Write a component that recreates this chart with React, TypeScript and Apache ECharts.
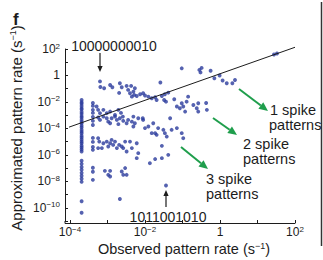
import { useEffect, useRef } from 'react';
import * as echarts from 'echarts';

const FONT = '"Liberation Sans", Arial, Helvetica, sans-serif';
const INK = '#1c1c1c';
const DOT = '#2b3b9c';
const GREEN = '#1f9e4c';

// log10 of the observed rate for the two dense columns (1 and 2 occurrences)
const col1ObsExp = -3.69;
const col1ApproxExp = [-1.85, -2.02, -2.14, -2.31, -2.47, -2.58, -2.76, -2.9, -3.07, -3.19, -3.36, -3.52, -3.63, -3.81, -3.94, -4.12, -4.26, -4.39, -4.57, -4.7, -4.86, -5.01, -5.13, -5.31, -5.44, -5.6, -5.75, -6.45, -6.68, -6.91, -7.13, -7.36, -7.58, -7.81, -8.04, -9.51, -10.38];
const col2ObsExp = -3.39;
const col2ApproxExp = [-2.08, -2.3, -2.6, -2.83, -3.13, -3.43, -3.74, -4.72, -5.02, -5.4, -5.62, -6.98, -7.28, -7.89];

// upper band (mostly 1-spike patterns), log10 values
const upperObsExp = [-3.2, -3.19, -3.09, -2.93, -2.87, -2.67, -2.62, -2.69, -2.49, -2.45, -2.4, -2.31, -2.29, -2.22, -2.13, -2.05, -2.0, -1.91, -1.82, -1.73, -1.69, -1.55, -1.47, -1.38, -1.59, -1.44, -1.22, -0.85, -1.15, -1.02, -0.98, -0.71, -0.58, -0.58, -0.93, -1.07, -0.37, -1.02, -0.55, -0.52, -0.49, -0.25, -0.15, -0.01, 0.07, 0.18, 0.33, 0.4, 1.44, 1.52, -2.35, -2.37, -2.27, -0.89, -0.62, -0.35, -1.49];
const upperApproxExp = [-0.45, -0.87, -0.97, -0.72, -0.89, -0.59, -0.89, -1.32, -0.79, -1.09, -1.34, -1.22, -1.47, -1.55, -1.42, -1.34, -1.51, -1.6, -1.72, -1.65, -1.85, -1.55, -1.42, -1.3, -0.53, -1.98, -1.8, -1.6, -2.35, -2.1, -2.35, -2.23, -2.1, -2.73, -2.73, -2.48, -2.08, 0.54, 0.42, 0.23, 0.57, 0.36, -0.21, 0.0, -0.38, -0.59, -0.59, -0.34, 1.58, 1.66, -1.6, -0.79, -0.97, -1.98, -2.48, -2.6, -1.85];

// middle band (mostly 2-spike patterns)
const middleObsExp = [-1.33, -2.06, -3.29, -3.25, -3.2, -3.11, -3.02, -2.93, -2.8, -2.71, -2.64, -3.25, -3.2, -3.11, -3.02, -2.98, -2.89, -2.8, -2.75, -2.67, -2.58, -2.49, -2.45, -2.35, -2.27, -2.18, -2.93, -2.71, -2.59, -2.31, -2.05, -2.31, -2.0, -1.91, -1.78, -1.65, -1.73, -1.51, -1.47, -1.42, -1.29, -1.15, -1.02, -1.82, -1.69, -0.98];
const middleApproxExp = [-3.23, -3.23, -2.35, -2.6, -2.85, -2.6, -2.85, -2.73, -2.98, -2.6, -2.83, -3.18, -3.36, -3.11, -3.23, -3.49, -3.23, -3.11, -3.36, -3.23, -3.43, -3.61, -3.36, -3.49, -3.61, -3.23, -3.61, -3.68, -3.11, -3.11, -3.36, -3.86, -3.98, -3.86, -3.61, -3.98, -4.36, -4.11, -4.36, -4.62, -4.11, -3.98, -4.36, -4.36, -4.49, -4.74];

// lower band (mostly 3-spike patterns)
const lowerObsExp = [-1.55, -1.38, -1.55, -1.73, -1.87, -3.25, -3.22, -3.25, -3.15, -3.11, -3.02, -2.98, -2.93, -2.89, -2.85, -2.8, -2.75, -2.69, -2.62, -2.58, -2.53, -2.49, -2.4, -2.35, -2.22, -2.18, -2.22, -3.07, -2.93, -2.98, -2.93, -2.62, -2.58, -2.49, -2.53, -2.67, -1.44];
const lowerApproxExp = [-5.32, -6.0, -6.25, -6.32, -6.63, -4.74, -5.0, -5.49, -5.49, -5.12, -5.0, -5.37, -5.12, -4.87, -5.25, -5.0, -5.49, -5.25, -5.37, -5.49, -5.0, -5.75, -5.0, -5.49, -5.12, -5.87, -6.25, -7.21, -7.21, -7.51, -7.64, -7.26, -7.51, -7.51, -7.0, -9.34, -8.32];

// black reference line (log10 endpoints)
const lineObsExp = [-4.1, 2.0];
const lineApproxExp = [-3.98, 2.13];

const xTickLabels: Record<number, string> = { [-4]: '{b|10}{s|−4}', [-2]: '{b|10}{s|−2}', 0: '{b|1}', 2: '{b|10}{s|2}' };
const yTickLabels: Record<number, string> = { 2: '{b|10}{s|2}', 0: '{b|1}', [-2]: '{b|10}{s|−2}', [-4]: '{b|10}{s|−4}', [-6]: '{b|10}{s|−6}', [-8]: '{b|10}{s|−8}', [-10]: '{b|10}{s|−10}' };

const pts = (xs: number[], ys: number[]) => xs.map((x, i) => [Math.pow(10, x), Math.pow(10, ys[i])]);
const colPts = (x: number, ys: number[]) => ys.map((y) => [Math.pow(10, x), Math.pow(10, y)]);

function arrow(x1: number, y1: number, x2: number, y2: number, color: string, w: number, hl: number, hw: number) {
  const dx = x2 - x1, dy = y2 - y1;
  const L = Math.sqrt(dx * dx + dy * dy);
  const ux = dx / L, uy = dy / L;
  const bx = x2 - ux * hl, by = y2 - uy * hl;
  const px = -uy, py = ux;
  return [
    { type: 'line', shape: { x1, y1, x2: bx, y2: by }, style: { stroke: color, lineWidth: w }, silent: true },
    { type: 'polygon', shape: { points: [[x2, y2], [bx + px * hw, by + py * hw], [bx - px * hw, by - py * hw]] }, style: { fill: color }, silent: true },
  ];
}

const labelRich = {
  b: { fontSize: 12, lineHeight: 14, fontFamily: FONT, color: INK },
  s: { fontSize: 8, lineHeight: 8, verticalAlign: 'top', fontFamily: FONT, color: INK },
};

const fmt = (table: Record<number, string>) => (v: number) => {
  const e = Math.log10(v);
  const r = Math.round(e);
  if (Math.abs(e - r) > 0.01) return '';
  return table[r] ?? '';
};

const txt = (text: string, x: number, y: number, size: number, align = 'left', extra: any = {}) => ({
  type: 'text', x, y, silent: true,
  style: { text, fontSize: size, lineHeight: 13, fontFamily: FONT, fill: INK, align, verticalAlign: 'middle', ...extra },
});

export default function App() {
  const ref = useRef<HTMLDivElement>(null);
  useEffect(() => {
    document.body.style.margin = '0';
    const chart = echarts.init(ref.current!, null, { renderer: 'svg' });
    const scatterData = [
      ...colPts(col1ObsExp, col1ApproxExp),
      ...colPts(col2ObsExp, col2ApproxExp),
      ...pts(upperObsExp, upperApproxExp),
      ...pts(middleObsExp, middleApproxExp),
      ...pts(lowerObsExp, lowerApproxExp),
    ];
    const option: any = {
      animation: false,
      grid: { left: 70, right: 28, top: 49, bottom: 39 },
      xAxis: {
        type: 'log', logBase: 10, min: 1e-4, max: 1e2, interval: 1, offset: 2,
        axisLine: { lineStyle: { color: INK, width: 1 } },
        axisTick: { inside: true, length: 3, lineStyle: { color: INK } },
        axisLabel: { margin: 2, formatter: fmt(xTickLabels), rich: labelRich, showMinLabel: true, showMaxLabel: true },
        splitLine: { show: false },
      },
      yAxis: {
        type: 'log', logBase: 10, min: 1e-11, max: 1e2, interval: 1, offset: 5,
        axisLine: { lineStyle: { color: INK, width: 1 } },
        axisTick: { inside: true, length: 3, lineStyle: { color: INK } },
        axisLabel: { margin: 5, formatter: fmt(yTickLabels), rich: labelRich, showMinLabel: true, showMaxLabel: true },
        splitLine: { show: false },
      },
      series: [
        {
          type: 'line', clip: false, symbol: 'none',
          data: pts(lineObsExp, lineApproxExp),
          lineStyle: { color: INK, width: 1 },
        },
        {
          type: 'scatter', symbol: 'circle', symbolSize: 3.9,
          itemStyle: { color: DOT },
          data: scatterData,
        },
      ],
      graphic: [
        { type: 'polyline', shape: { points: [[65, 221], [65, 223.5], [70, 223.5]] }, style: { stroke: INK, lineWidth: 1 }, silent: true },
        { type: 'line', shape: { x1: 321.5, y1: 2, x2: 321.5, y2: 246 }, style: { stroke: '#333', lineWidth: 1.5 }, silent: true },
        txt('f', 13, 19, 17, 'left', { fontWeight: 'bold', lineHeight: 18 }),
        {
          type: 'text', x: 16, y: 128, rotation: Math.PI / 2, silent: true,
          style: {
            text: '{n|Approximated pattern rate (s}{s|−1}{n|)}', align: 'center', verticalAlign: 'middle',
            rich: { n: { fontSize: 15, lineHeight: 16, fontFamily: FONT, fill: INK, color: INK }, s: { fontSize: 9, lineHeight: 9, verticalAlign: 'top', fontFamily: FONT, fill: INK, color: INK } },
          },
        },
        {
          type: 'text', x: 184, y: 249, silent: true,
          style: {
            text: '{n|Observed pattern rate (s}{s|−1}{n|)}', align: 'center', verticalAlign: 'middle',
            rich: { n: { fontSize: 14.5, lineHeight: 16, fontFamily: FONT, fill: INK, color: INK }, s: { fontSize: 9, lineHeight: 9, verticalAlign: 'top', fontFamily: FONT, fill: INK, color: INK } },
          },
        },
        txt('10000000010', 114, 46, 14, 'center'),
        txt('1011001010', 168, 217, 14, 'center'),
        txt('1 spike', 270, 110, 14.5),
        txt('patterns', 269, 125, 14.5),
        txt('2 spike', 243, 144, 14.5),
        txt('patterns', 243, 159, 14.5),
        txt('3 spike', 206, 178.5, 14.5),
        txt('patterns', 206, 193.5, 14.5),
        ...arrow(100, 53, 100, 72, INK, 1.2, 6, 2.6),
        ...arrow(166, 207, 166, 190, INK, 1.2, 6, 2.6),
        ...arrow(239, 89, 268, 111, GREEN, 2, 9, 4),
        ...arrow(213, 118, 237, 135, GREEN, 2, 9, 4),
        ...arrow(181, 147, 208, 169, GREEN, 2, 9, 4),
      ],
    };
    chart.setOption(option);
    return () => chart.dispose();
  }, []);
  return <div ref={ref} style={{ width: 323, height: 260, position: 'absolute', left: 0, top: 0 }} />;
}
